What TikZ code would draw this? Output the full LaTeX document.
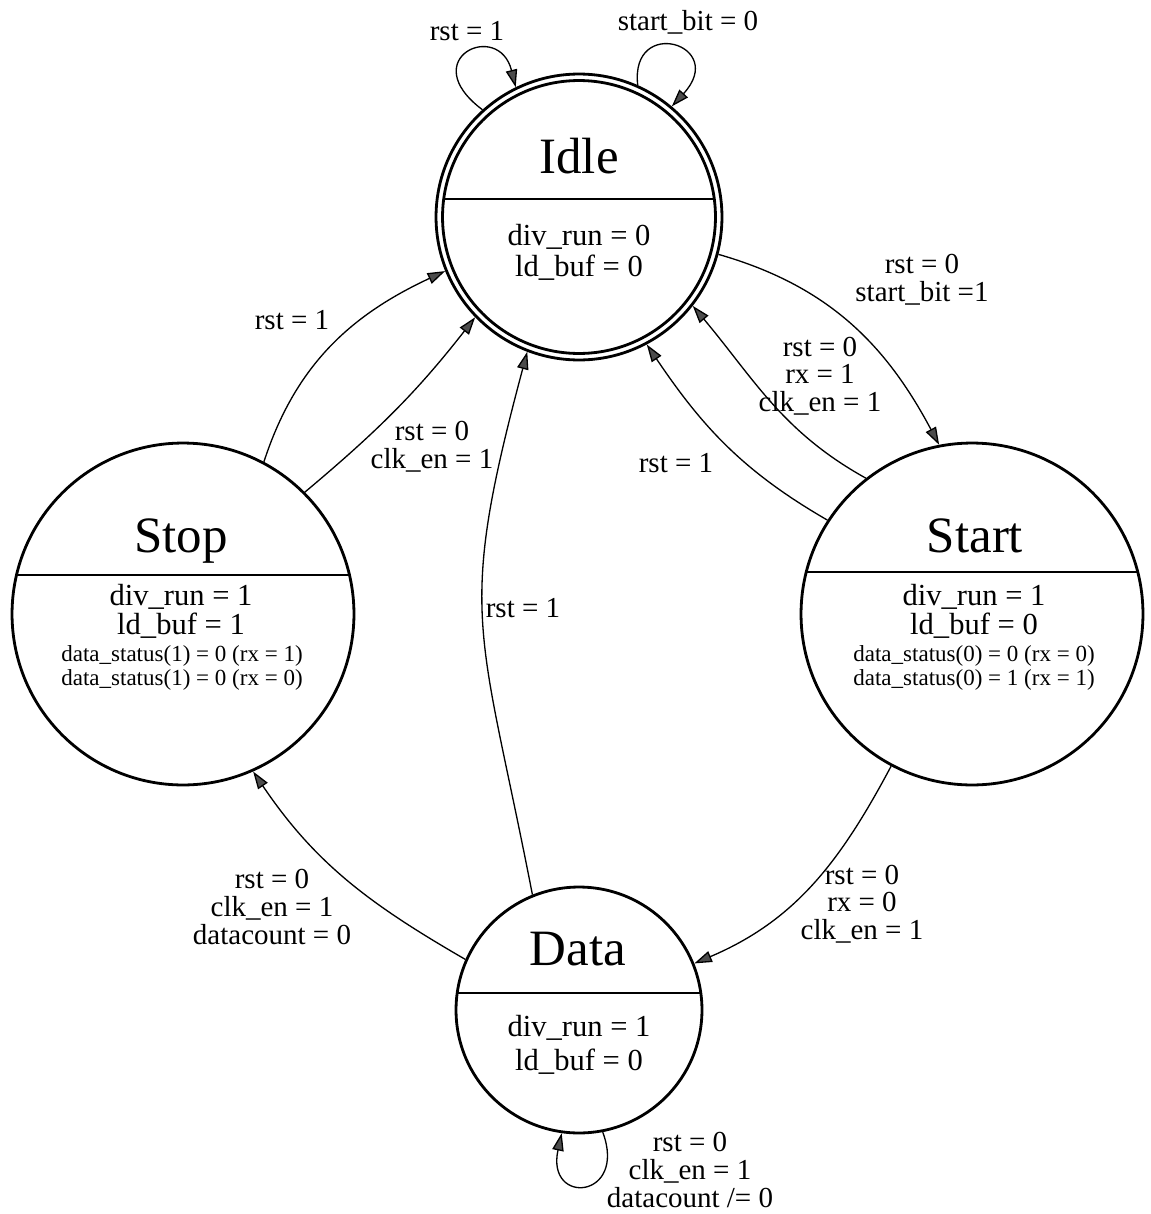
\documentclass[tikz,border=0pt]{standalone}
\usepackage{fontspec}
\setmainfont{Liberation Serif}
\usepackage{tikz}
\usetikzlibrary{arrows.meta, positioning, calc}

\begin{document}
\begin{tikzpicture}[x=0.02cm, y=-0.02cm,
    state/.style={circle, draw, line width=1.6pt, inner sep=0pt},
    divider/.style={line width=1.6pt},
    edge/.style={line width=0.75pt, -{Triangle[length=10pt, width=6.5pt, fill=black!70]}},
    title/.style={anchor=base, inner sep=0pt, font=\fontsize{29}{34}\selectfont},
    body/.style={align=center, inner sep=0pt, font=\fontsize{17.4}{#1}\selectfont},
    small/.style={align=center, inner sep=0pt, font=\fontsize{13.1}{#1}\selectfont},
    lbl/.style={align=center, inner sep=0pt, font=\fontsize{16.5}{15.8}\selectfont}]
  \useasboundingbox (0,0) rectangle (1150,1214);

  % States
  \node[state, minimum size=5.72cm] (idle) at (579,217) {};
  \draw[line width=1.6pt] (idle.center) circle[radius=2.73cm];
  \draw[divider] ($(idle)+(-135,-18)$) -- ++(270,0);
  \node[title] (idle-title) at (579,173) {Idle};
  \node[body=17.6pt] (idle-out) at (579,252) {div\_run = 0\\ld\_buf = 0};

  \node[state, minimum size=6.84cm] (start) at (972,614) {};
  \draw[divider] ($(start)+(-166,-42)$) -- ++(332,0);
  \node[title] (start-title) at (975,552) {Start};
  \node[body=16.6pt] (start-out) at (974,611) {div\_run = 1\\ld\_buf = 0};
  \node[small=13.3pt] (start-status) at (974,668) {data\_status(0) = 0 (rx = 0)\\data\_status(0) = 1 (rx = 1)};

  \node[state, minimum size=6.84cm] (stop) at (183,614) {};
  \draw[divider] ($(stop)+(-166.5,-39)$) -- ++(333,0);
  \node[title] (stop-title) at (181,552) {Stop};
  \node[body=16.6pt] (stop-out) at (181,611) {div\_run = 1\\ld\_buf = 1};
  \node[small=13.3pt] (stop-status) at (182,668) {data\_status(1) = 0 (rx = 1)\\data\_status(1) = 0 (rx = 0)};

  \node[state, minimum size=4.92cm] (data) at (579,1010) {};
  \draw[divider] ($(data)+(-122,-17)$) -- ++(244,0);
  \node[title] (data-title) at (578,965) {Data};
  \node[body=19.3pt] (data-out) at (579,1045) {div\_run = 1\\ld\_buf = 0};

  % Self loops
  \draw[edge] (idle.132) .. controls +(-68,-51) and +(-17,-68) .. (idle.116);
  \node[lbl] (l-idle-rst) at (467,31) {rst = 1};
  \draw[edge] (idle.66) .. controls +(-8,-70) and +(57,-62) .. (idle.50);
  \node[lbl] (l-idle-bit) at (688,22) {start\_bit = 0};
  \draw[edge] (data.-79) .. controls +(25,67) and +(-16,73) .. (data.-98);
  \node[lbl] (l-data-loop) at (690,1170) {rst = 0\\clk\_en = 1\\datacount /= 0};

  % Transitions
  \draw[edge] (idle.-15) to[out=-16, in=118] (start.101);
  \node[lbl] (l-idle-start) at (922,280) {rst = 0\\start\_bit =1};
  \draw[edge] (start.128) to[out=151, in=-50] (idle.-38);
  \node[lbl] (l-start-idle) at (820,376) {rst = 0\\rx = 1\\clk\_en = 1};
  \draw[edge] (start.147) to[out=150, in=-56] (idle.-62);
  \node[lbl] (l-start-rst) at (676,463) {rst = 1};
  \draw[edge] (start.-118) to[out=-118, in=23] (data.22);
  \node[lbl] (l-start-data) at (862,904) {rst = 0\\rx = 0\\clk\_en = 1};
  \draw[edge] (data.112) to[out=101, in=-105, looseness=1.3] (idle.-111);
  \node[lbl] (l-data-rst) at (523,608) {rst = 1};
  \draw[edge] (data.156) to[out=150, in=-56] (stop.-66);
  \node[lbl] (l-data-stop) at (272,907) {rst = 0\\clk\_en = 1\\datacount = 0};
  \draw[edge] (stop.45) to[out=40, in=-128] (idle.-136);
  \node[lbl] (l-stop-idle) at (432,447) {rst = 0\\clk\_en = 1};
  \draw[edge] (stop.62) to[out=72, in=-155] (idle.-158);
  \node[lbl] (l-stop-rst) at (292,320) {rst = 1};
\end{tikzpicture}
\end{document}
